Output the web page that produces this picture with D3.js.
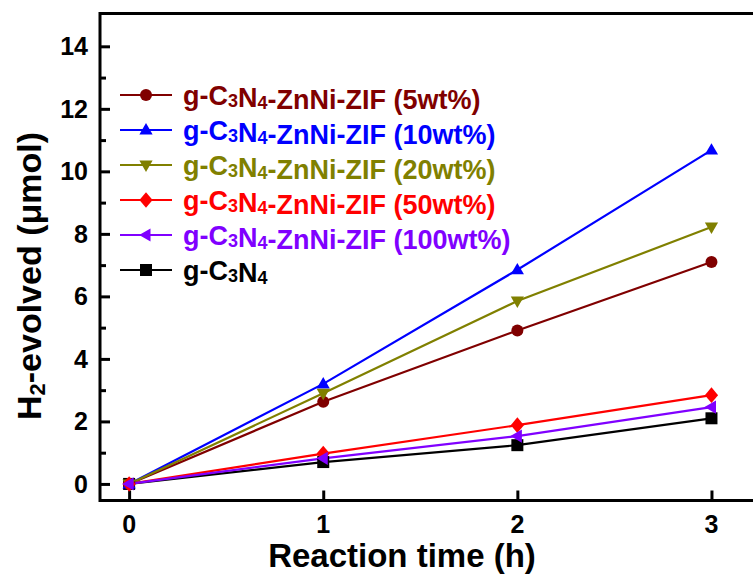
<!DOCTYPE html>
<html>
<head>
<meta charset="utf-8">
<script src="https://cdn.jsdelivr.net/npm/d3@7"></script>
<style>
  html, body { margin: 0; padding: 0; background: #fff; }
  svg { display: block; }
  text { font-family: "Liberation Sans", Arial, sans-serif; font-weight: bold; }
</style>
</head>
<body>
<svg id="chart" width="753" height="576"></svg>
<script>
// Reaction time (h)
const times = [0, 1, 2, 3];

// H2 evolved (µmol) for each catalyst
const seriesNames = [
  "g-C3N4",
  "g-C3N4-ZnNi-ZIF (5wt%)",
  "g-C3N4-ZnNi-ZIF (10wt%)",
  "g-C3N4-ZnNi-ZIF (20wt%)",
  "g-C3N4-ZnNi-ZIF (50wt%)",
  "g-C3N4-ZnNi-ZIF (100wt%)"
];
const valuesBare   = [0, 0.70, 1.24, 2.10];
const values5wt    = [0, 2.63, 4.91, 7.10];
const values10wt   = [0, 3.20, 6.85, 10.68];
const values20wt   = [0, 2.90, 5.85, 8.22];
const values50wt   = [0, 0.97, 1.88, 2.84];
const values100wt  = [0, 0.82, 1.53, 2.46];

const seriesColors = ["#000000", "#800000", "#0000FF", "#808000", "#FF0000", "#8000FF"];
const seriesSymbols = ["square", "circle", "triUp", "triDown", "diamond", "triLeft"];

const yTicks = [0, 2, 4, 6, 8, 10, 12, 14];
const yMinorTicks = [1, 3, 5, 7, 9, 11, 13];
const xTicks = [0, 1, 2, 3];

// legend order (top to bottom)
const legendOrder = [1, 2, 3, 4, 5, 0];

const allValues = [valuesBare, values5wt, values10wt, values20wt, values50wt, values100wt];

const svg = d3.select("#chart");

const frameL = 100, frameR = 760, frameT = 13.5, frameB = 500.5;
const x = d3.scaleLinear().domain([-0.15, 3.25]).range([frameL, frameR]);
const y = d3.scaleLinear().domain([-0.53, 15.05]).range([frameB, frameT]);

// frame: right edge sits just outside the view
svg.append("path")
  .attr("d", `M${frameL},${frameB} L${frameL},${frameT} L${frameR},${frameT} L${frameR},${frameB} Z`)
  .attr("fill", "none").attr("stroke", "#000").attr("stroke-width", 3);

// y axis ticks (inward)
const yAxis = d3.axisRight(y).tickValues(yTicks).tickSize(10).tickFormat("");
const gy = svg.append("g").attr("transform", `translate(${frameL},0)`).call(yAxis);
gy.select(".domain").remove();
gy.selectAll("line").attr("stroke-width", 3);
const yMinor = d3.axisRight(y).tickValues(yMinorTicks).tickSize(6).tickFormat("");
const gym = svg.append("g").attr("transform", `translate(${frameL},0)`).call(yMinor);
gym.select(".domain").remove();
gym.selectAll("line").attr("stroke-width", 3);

// y tick labels
svg.append("g").selectAll("text").data(yTicks).join("text")
  .attr("x", frameL - 12).attr("y", d => y(d)).attr("dy", "0.36em")
  .attr("text-anchor", "end").attr("font-size", 25)
  .text(d => d);

// x axis ticks (inward)
const xAxis = d3.axisTop(x).tickValues(xTicks).tickSize(10).tickFormat("");
const gx = svg.append("g").attr("transform", `translate(0,${frameB})`).call(xAxis);
gx.select(".domain").remove();
gx.selectAll("line").attr("stroke-width", 3);

svg.append("g").selectAll("text").data(xTicks).join("text")
  .attr("x", d => x(d)).attr("y", frameB + 32)
  .attr("text-anchor", "middle").attr("font-size", 25)
  .text(d => d);

// axis titles
svg.append("text").attr("x", 402).attr("y", 567)
  .attr("text-anchor", "middle").attr("font-size", 33)
  .text("Reaction time (h)");

const yt = svg.append("text")
  .attr("transform", `translate(41,276) rotate(-90)`)
  .attr("text-anchor", "middle").attr("font-size", 34);
yt.append("tspan").text("H");
yt.append("tspan").attr("font-size", 22).attr("dy", 4).text("2");
yt.append("tspan").attr("dy", -4).text("-evolved (μmol)");

// marker shapes
function symbolPath(kind, r) {
  switch (kind) {
    case "square": return `M${-r},${-r}H${r}V${r}H${-r}Z`;
    case "circle": return d3.symbol(d3.symbolCircle, Math.PI * r * r)();
    case "triUp": return `M0,${-r * 1.15}L${r * 1.1},${r * 0.75}L${-r * 1.1},${r * 0.75}Z`;
    case "triDown": return `M0,${r * 1.15}L${r * 1.1},${-r * 0.75}L${-r * 1.1},${-r * 0.75}Z`;
    case "triLeft": return `M${-r * 1.15},0L${r * 0.75},${-r * 1.1}L${r * 0.75},${r * 1.1}Z`;
    case "diamond": return `M0,${-r * 1.3}L${r * 1.1},0L0,${r * 1.3}L${-r * 1.1},0Z`;
  }
}

const line = d3.line().x((d, i) => x(times[i])).y(d => y(d));

const plot = svg.append("g");
allValues.forEach((vals, s) => {
  plot.append("path").datum(vals)
    .attr("d", line).attr("fill", "none")
    .attr("stroke", seriesColors[s]).attr("stroke-width", 2.2);
});
allValues.forEach((vals, s) => {
  plot.append("g").selectAll("path").data(vals).join("path")
    .attr("transform", (d, i) => `translate(${x(times[i])},${y(d)})`)
    .attr("d", symbolPath(seriesSymbols[s], 6))
    .attr("fill", seriesColors[s]);
});

// legend
const legend = svg.append("g");
legendOrder.forEach((s, row) => {
  const cy = 95 + row * 35;
  legend.append("line").attr("x1", 120).attr("x2", 172).attr("y1", cy).attr("y2", cy)
    .attr("stroke", seriesColors[s]).attr("stroke-width", 2.2);
  legend.append("path").attr("transform", `translate(146,${cy})`)
    .attr("d", symbolPath(seriesSymbols[s], 6)).attr("fill", seriesColors[s]);
  const t = legend.append("text").attr("x", 183).attr("y", cy).attr("dy", "0.36em")
    .attr("font-size", 27).attr("fill", seriesColors[s]);
  // digits after C and N drawn as subscripts
  const parts = seriesNames[s].split(/(C3|N4)/).filter(p => p.length);
  parts.forEach(p => {
    if (p === "C3" || p === "N4") {
      t.append("tspan").text(p[0]);
      t.append("tspan").attr("font-size", 18).attr("dy", 2).text(p[1]);
      t.append("tspan").attr("dy", -2).text("");
    } else {
      t.append("tspan").text(p);
    }
  });
});
</script>
</body>
</html>
